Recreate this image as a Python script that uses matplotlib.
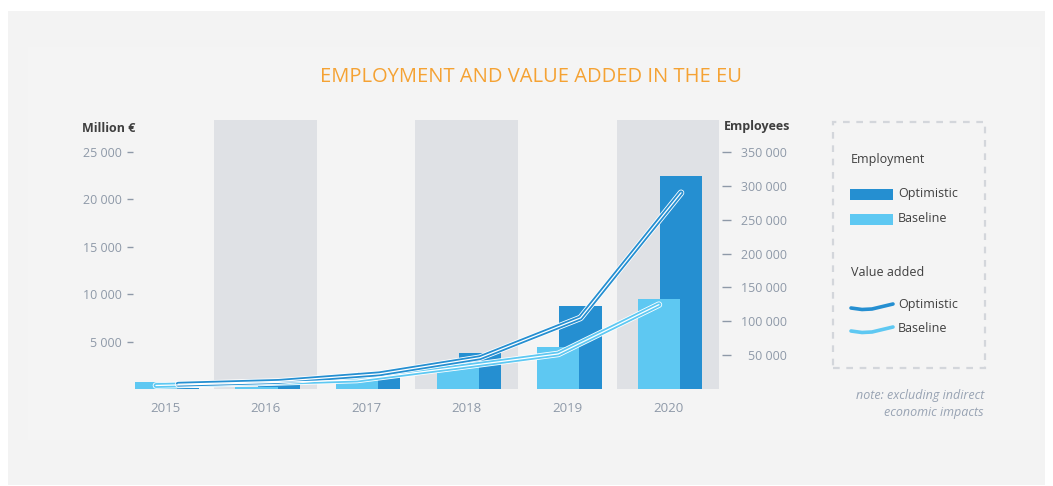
import matplotlib.pyplot as plt
import numpy as np
from matplotlib.patches import Rectangle
from matplotlib.lines import Line2D
import matplotlib.patheffects as pe

plt.rcParams['font.family'] = ['Open Sans', 'DejaVu Sans']

# data
years = ['2015', '2016', '2017', '2018', '2019', '2020']
emp_optimistic = [1500, 6000, 25500, 53600, 122600, 315000]
emp_baseline = [10800, 3000, 20700, 34000, 61600, 132500]
va_optimistic = [500, 800, 1600, 3300, 7500, 20700]
va_baseline = [370, 630, 950, 2300, 3700, 8900]

left_ticks = [5000, 10000, 15000, 20000, 25000]
right_ticks = [50000, 100000, 150000, 200000, 250000, 300000, 350000]

DARK = '#258fd1'
LIGHT = '#5ec8f2'
BAND = '#dfe1e5'
TICK = '#8e99a8'
TXT = '#3f3f3f'

W, H = 1053, 486
fig = plt.figure(figsize=(W / 100, H / 100), dpi=100)
fig.patch.set_facecolor('white')

def fx(px):
    return px / W

def fy(py):
    return 1 - py / H

def fmt(v):
    return f'{v:,}'.replace(',', ' ')

# background panels
fig.patches.append(Rectangle((fx(8), fy(485)), fx(1045 - 8), (485 - 11) / H,
                             transform=fig.transFigure, facecolor='#f3f3f3',
                             edgecolor='none', zorder=-10))
fig.patches.append(Rectangle((fx(28), fy(440)), fx(1040 - 28), (440 - 47) / H,
                             transform=fig.transFigure, facecolor='#f4f4f4',
                             edgecolor='none', zorder=-9))

ax = fig.add_axes([fx(133), fy(389), fx(722 - 133), (389 - 120) / H])
ax.set_facecolor('none')
ax2 = ax.twinx()

x = np.arange(len(years))
for i in x[1::2]:
    ax.axvspan(i - 0.51, i + 0.51, color=BAND, zorder=0, lw=0)

bw = 0.42
off_opt = 0.13
off_base = -0.09
ax2.bar(x + off_opt, emp_optimistic, bw, color=DARK, zorder=2)
ax2.bar(x + off_base, emp_baseline, bw, color=LIGHT, zorder=3)

ymax_left = 28380
ax.set_ylim(0, ymax_left)
ax2.set_ylim(0, ymax_left * 14)
ax.set_xlim(-0.318, 5.537)

# value added lines, drawn on top of the bars
ax3 = ax2.twinx()
ax3.set_ylim(0, ymax_left)
ax3.axis('off')
for xs, vals, col in [(x + off_base, va_baseline, LIGHT), (x + off_opt, va_optimistic, DARK)]:
    ax3.plot(xs, vals, color=col, lw=3.5, solid_capstyle='round',
             solid_joinstyle='round', zorder=5,
             path_effects=[pe.Stroke(linewidth=4.7, foreground='white'), pe.Normal()])
    ax3.plot(xs, vals, color='white', lw=0.9, solid_capstyle='round',
             solid_joinstyle='round', zorder=6)

for a in (ax, ax2):
    for s in a.spines.values():
        s.set_visible(False)

ax.set_xticks(x)
ax.set_xticklabels(years)
ax.tick_params(axis='x', length=0, pad=9, labelsize=9.5, labelcolor=TICK)

ax.set_yticks(left_ticks)
ax.set_yticklabels([fmt(v) for v in left_ticks])
ax.tick_params(axis='y', length=4.3, width=1, color=TICK, pad=3.6,
               labelsize=9, labelcolor=TICK)

ax2.set_yticks(right_ticks)
ax2.set_yticklabels([fmt(v) for v in right_ticks])
ax2.tick_params(axis='y', which='both', left=False, labelleft=False,
                right=True, labelright=True, length=6.5, width=1, color=TICK,
                pad=40, labelsize=9, labelcolor=TICK)
for t in ax2.yaxis.get_major_ticks():
    t.label2.set_horizontalalignment('right')

fig.text(fx(135), fy(128), 'Million €', ha='right', va='center',
         fontsize=9, fontweight='bold', color=TXT)
fig.text(fx(724), fy(126), 'Employees', ha='left', va='center',
         fontsize=9, fontweight='bold', color=TXT)

fig.text(fx(531), fy(77), 'EMPLOYMENT AND VALUE ADDED IN THE EU', ha='center',
         va='center', fontsize=14.5, color='#f5a233')

# legend box
fig.patches.append(Rectangle((fx(833), fy(368)), fx(985 - 833), (368 - 122) / H,
                             transform=fig.transFigure, facecolor='none',
                             edgecolor='#d3d6db', lw=1.6, linestyle=(0, (3, 3))))
fs = 9
fig.text(fx(851), fy(159), 'Employment', ha='left', va='center', fontsize=fs, color=TXT)
fig.patches.append(Rectangle((fx(850), fy(200)), fx(43), 11 / H,
                             transform=fig.transFigure, facecolor=DARK, edgecolor='none'))
fig.patches.append(Rectangle((fx(850), fy(225)), fx(43), 11 / H,
                             transform=fig.transFigure, facecolor=LIGHT, edgecolor='none'))
fig.text(fx(898), fy(193), 'Optimistic', ha='left', va='center', fontsize=fs, color=TXT)
fig.text(fx(898), fy(218), 'Baseline', ha='left', va='center', fontsize=fs, color=TXT)
fig.text(fx(851), fy(272), 'Value added', ha='left', va='center', fontsize=fs, color=TXT)
for yy, col in [(308, DARK), (331, LIGHT)]:
    wx = [fx(851), fx(862), fx(872), fx(893)]
    wy = [fy(yy), fy(yy + 1.5), fy(yy + 1), fy(yy - 4)]
    fig.lines.append(Line2D(wx, wy, transform=fig.transFigure, color=col,
                            lw=2.6, solid_capstyle='round', solid_joinstyle='round'))
fig.text(fx(898), fy(304), 'Optimistic', ha='left', va='center', fontsize=fs, color=TXT)
fig.text(fx(898), fy(328), 'Baseline', ha='left', va='center', fontsize=fs, color=TXT)

fig.text(fx(984), fy(396), 'note: excluding indirect', ha='right', va='center',
         fontsize=9, style='italic', color='#98a3b3')
fig.text(fx(984), fy(412), 'economic impacts', ha='right', va='center',
         fontsize=9, style='italic', color='#98a3b3')

fig.savefig('out.png', dpi=100, facecolor=fig.get_facecolor())
